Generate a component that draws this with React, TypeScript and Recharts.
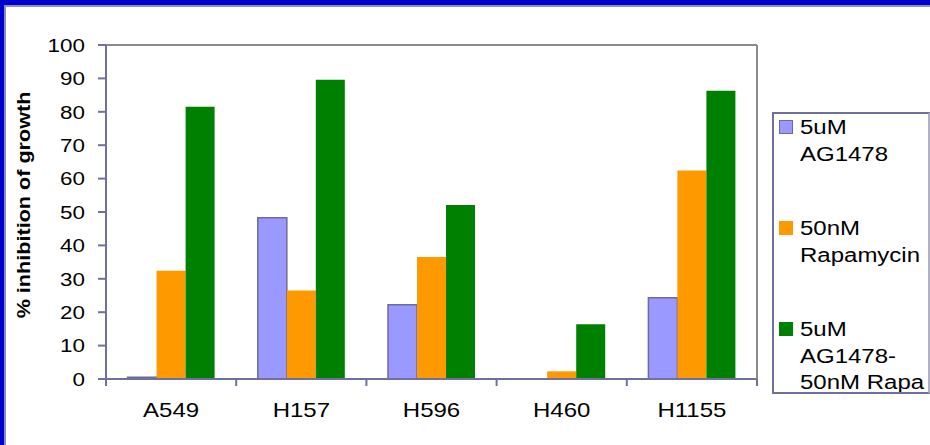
import React from 'react';
import { Bar, BarChart, Label, Legend, XAxis, YAxis } from 'recharts';

const cellLines = ['A549', 'H157', 'H596', 'H460', 'H1155'];
const ag1478 = [0.5, 48.3, 22.2, 0, 24.3];
const rapamycin = [32.4, 26.5, 36.5, 2.3, 62.4];
const combined = [81.5, 89.6, 52.1, 16.4, 86.3];
const yTicks = [0, 10, 20, 30, 40, 50, 60, 70, 80, 90, 100];

const FONT = '"Liberation Sans", Arial, sans-serif';
const AXIS = '#7070a0';
const FRAME = '#8a8a8a';

const series = [
  { key: 'ag', name: '5uM\nAG1478', fill: '#9999ff', stroke: '#6b6b9c' },
  { key: 'rapa', name: '50nM\nRapamycin', fill: '#ff9900', stroke: 'none' },
  { key: 'combo', name: '5uM\nAG1478-\n50nM Rapa', fill: '#008000', stroke: 'none' },
];

const data = cellLines.map((name, i) => ({
  name,
  ag: ag1478[i],
  rapa: rapamycin[i],
  combo: combined[i],
}));

const YTick = ({ x, y, payload }: any) => (
  <g transform={`translate(${x},${y})`}>
    <text transform="scale(1.18,1)" textAnchor="end" dy="0.36em" fontSize={19} fontFamily={FONT} fill="#000" stroke="none">
      {payload.value}
    </text>
  </g>
);

// category label centred in its band, with tick marks on the band edges
const CategoryTick = ({ x, y, payload, index, width, visibleTicksCount }: any) => {
  const half = width / visibleTicksCount / 2;
  const last = index === visibleTicksCount - 1;
  return (
    <g>
      <line x1={x - half} x2={x - half} y1={y} y2={y + 7} stroke={AXIS} strokeWidth={2} />
      {last && <line x1={x + half} x2={x + half} y1={y} y2={y + 7} stroke={AXIS} strokeWidth={2} />}
      <g transform={`translate(${x},${y + 24})`}>
        <text transform="scale(1.2,1)" textAnchor="middle" dy="0.71em" fontSize={20} fontFamily={FONT} fill="#000" stroke="none">
          {payload.value}
        </text>
      </g>
    </g>
  );
};

const YTitle = ({ viewBox }: any) => {
  const cy = viewBox.y + viewBox.height / 2 - 7;
  return (
    <text
      transform={`translate(24,${cy}) rotate(-90) scale(1.2,1)`}
      textAnchor="middle"
      dominantBaseline="central"
      fontSize={18}
      fontWeight="bold"
      fontFamily={FONT}
      fill="#000"
      stroke="none"
    >
      % inhibition of growth
    </text>
  );
};

const LegendBox = () => (
  <div
    style={{
      boxSizing: 'border-box',
      width: '100%',
      height: '100%',
      border: `2px solid ${AXIS}`,
      borderRight: `2px solid #b0b0c8`,
      overflow: 'hidden',
      background: '#fff',
      fontFamily: FONT,
      fontSize: 20,
      lineHeight: '26.5px',
      color: '#000',
    }}
  >
    {series.map((s, i) => (
      <div key={s.key} style={{ position: 'relative', marginTop: i === 0 ? 0 : 48, paddingLeft: 26 }}>
        <span
          style={{
            position: 'absolute',
            left: 5,
            top: 6,
            width: 14,
            height: 14,
            boxSizing: 'border-box',
            background: s.fill,
            border: s.stroke === 'none' ? 'none' : `1.5px solid ${s.stroke}`,
          }}
        />
        <div style={{ whiteSpace: 'pre', transform: 'scaleX(1.2)', transformOrigin: 'left' }}>{s.name}</div>
      </div>
    ))}
  </div>
);

export default function App() {
  return (
    <div style={{ position: 'absolute', left: 0, top: 0, width: 930, height: 445, background: '#fff', overflow: 'hidden' }}>
      {/* slide frame */}
      <div style={{ position: 'absolute', left: 0, top: 0, width: 930, height: 5, background: '#0000cc' }} />
      <div style={{ position: 'absolute', left: 0, top: 0, width: 4, height: 445, background: '#0000cc' }} />
      <div style={{ position: 'absolute', left: 4, top: 5, width: 926, height: 2, background: '#8c8cc0' }} />
      <div style={{ position: 'absolute', left: 4, top: 5, width: 2, height: 440, background: '#8c8cc0' }} />

      <div style={{ position: 'absolute', left: 0, top: 0 }}>
        <BarChart
          width={930}
          height={445}
          data={data}
          margin={{ top: 44, right: 172, bottom: 0, left: 0 }}
          barCategoryGap="16.6%"
          barGap={0}
        >
          <XAxis
            dataKey="name"
            height={66}
            stroke={AXIS}
            strokeWidth={2}
            tickLine={false}
            tickSize={0}
            tickMargin={0}
            interval={0}
            tick={<CategoryTick />}
          />
          <XAxis xAxisId="top" orientation="top" height={1} stroke={FRAME} strokeWidth={2} tickLine={false} tick={false} />
          <YAxis
            width={106}
            domain={[0, 100]}
            ticks={yTicks}
            interval={0}
            stroke={AXIS}
            strokeWidth={2}
            tickSize={8}
            tickMargin={13}
            tick={<YTick />}
          >
            <Label content={<YTitle />} />
          </YAxis>
          <YAxis
            yAxisId="right"
            orientation="right"
            width={1}
            domain={[0, 100]}
            stroke={FRAME}
            strokeWidth={2}
            tickLine={false}
            tick={false}
          />
          {series.map((s) => (
            <Bar
              key={s.key}
              dataKey={s.key}
              name={s.name}
              fill={s.fill}
              stroke={s.stroke}
              strokeWidth={1.5}
              isAnimationActive={false}
            />
          ))}
          <Legend
            layout="vertical"
            align="center"
            verticalAlign="middle"
            content={<LegendBox />}
            wrapperStyle={{ left: 772, top: 112, width: 158, height: 282 }}
          />
        </BarChart>
      </div>
    </div>
  );
}
